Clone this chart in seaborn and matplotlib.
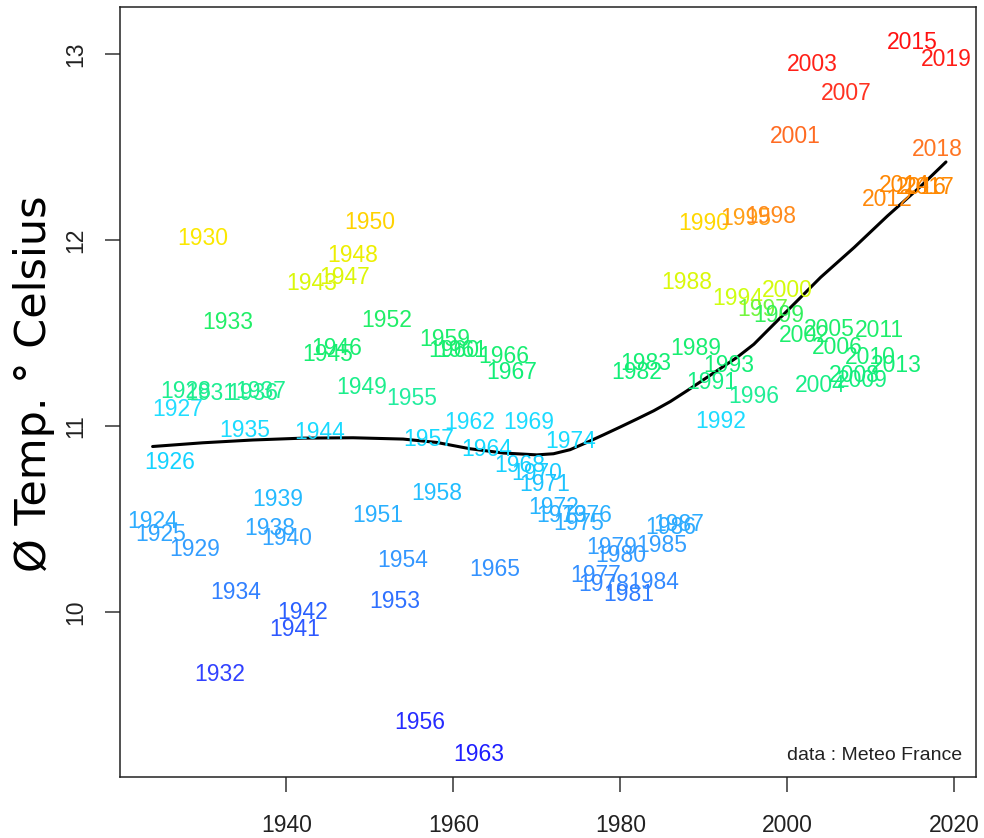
import numpy as np
import pandas as pd
import matplotlib
matplotlib.use("Agg")
import matplotlib.pyplot as plt
from matplotlib.colors import LinearSegmentedColormap
import seaborn as sns

# ---------------- data ----------------
years = list(range(1924, 2020))
temps = [10.50, 10.43, 10.82, 11.10, 11.20, 10.35, 12.02, 11.19, 9.68, 11.57,
         10.12, 10.99, 11.19, 11.20, 10.46, 10.62, 10.41, 9.92, 10.01, 11.78,
         10.98, 11.40, 11.43, 11.81, 11.93, 11.22, 12.11, 10.53, 11.58, 10.07,
         10.29, 11.16, 9.42, 10.94, 10.65, 11.48, 11.42, 11.42, 11.03, 9.25,
         10.89, 10.24, 11.39, 11.30, 10.80, 11.03, 10.76, 10.70, 10.575, 10.53,
         10.93, 10.49, 10.53, 10.21, 10.16, 10.36, 10.32, 10.11, 11.30, 11.35,
         10.17, 10.37, 10.47, 10.485, 11.785, 11.43, 12.10, 11.25, 11.04, 11.34,
         11.70, 12.13, 11.17, 11.64, 12.14, 11.61, 11.74, 12.57, 11.50, 12.96,
         11.23, 11.53, 11.435, 12.80, 11.285, 11.26, 11.38, 11.525, 12.23, 11.34,
         12.305, 13.075, 12.295, 12.295, 12.50, 12.985]

# smoothed trend
curve_years = [1924, 1930, 1936, 1942, 1948, 1954, 1958, 1962, 1966, 1970, 1972,
               1974, 1976, 1978, 1980, 1982, 1984, 1986, 1988, 1990, 1992, 1994,
               1996, 1998, 2000, 2002, 2004, 2006, 2008, 2010, 2012, 2014, 2016, 2019]
curve_vals = [10.89, 10.91, 10.925, 10.935, 10.937, 10.93, 10.912, 10.878, 10.855,
              10.845, 10.851, 10.873, 10.912, 10.953, 10.995, 11.038, 11.082, 11.132,
              11.19, 11.25, 11.31, 11.37, 11.44, 11.53, 11.62, 11.71, 11.80, 11.88,
              11.96, 12.045, 12.13, 12.21, 12.29, 12.42]

# colour stops (temperature -> colour)
color_temps = [9.25, 9.7, 10.0, 10.15, 10.4, 10.63, 10.85, 11.12, 11.16, 11.3, 11.6,
               11.68, 11.95, 12.05, 12.12, 12.14, 12.3, 12.5, 12.6, 12.8, 13.08]
color_hex = ['#1e1eff', '#3344ff', '#2a60ff', '#3388ff', '#33a3ff', '#22bbff',
             '#11d8ff', '#22ddff', '#22ee99', '#11ee77', '#22ee66', '#ccff11',
             '#eeee00', '#ffe600', '#ffd200', '#ff8a1e', '#ff8800', '#ff7722',
             '#ff6622', '#ff3322', '#ff1111']

x_ticks = [1940, 1960, 1980, 2000, 2020]
y_ticks = [10, 11, 12, 13]
y_label = "Ø Temp. ° Celsius"
note = "data : Meteo France"

# ---------------- style ----------------
sns.set_style("ticks")
plt.rcParams['font.family'] = ['Liberation Sans', 'DejaVu Sans']

fig = plt.figure(figsize=(9.84, 8.38), dpi=100)
ax = fig.add_axes([0.122, 0.0728, 0.8699, 0.9188])

df_curve = pd.DataFrame({"year": curve_years, "temp": curve_vals})
sns.lineplot(data=df_curve, x="year", y="temp", color="black", linewidth=2.2, ax=ax)

lo, hi = color_temps[0], color_temps[-1]
pos = [(t - lo) / (hi - lo) for t in color_temps]
cmap = LinearSegmentedColormap.from_list("temps", list(zip(pos, color_hex)))

for yr, t in zip(years, temps):
    c = cmap((t - lo) / (hi - lo))
    ax.text(yr, t, str(yr), color=c, fontsize=16.5, ha="center",
            va="center_baseline", family=['Liberation Sans', 'DejaVu Sans'])

ax.set_xlim(1920.1, 2022.6)
ax.set_ylim(9.113, 13.253)
ax.set_xticks(x_ticks)
ax.set_xticklabels([str(v) for v in x_ticks])
ax.set_yticks(y_ticks)
ax.set_yticklabels([str(v) for v in y_ticks], rotation=90, va="center")
ax.set_xlabel("")
ax.set_ylabel("")

ax.tick_params(axis="both", length=10.5, width=1.1, color="#333333",
               labelsize=16.5, labelcolor="#222222")
ax.tick_params(axis="x", pad=16)
ax.tick_params(axis="y", pad=13)
for s in ax.spines.values():
    s.set_visible(True)
    s.set_linewidth(1.1)
    s.set_color("#222222")

fig.text(34 / 984, 1 - 383.5 / 838, y_label, rotation=90, ha="center", va="center",
         fontsize=31, family=['DejaVu Sans'], color="black")

ax.text(0.9836, 0.031, note, transform=ax.transAxes, ha="right",
        va="center_baseline", fontsize=14, color="#222222")

fig.savefig("out.png", dpi=100)
